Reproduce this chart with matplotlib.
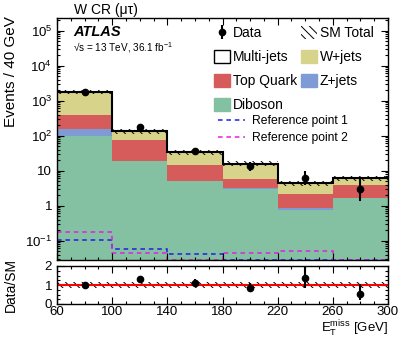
import numpy as np
import matplotlib
matplotlib.use('Agg')
import matplotlib.pyplot as plt
import matplotlib.patches as mpatches
from matplotlib.lines import Line2D
from matplotlib.ticker import FixedLocator, FixedFormatter, MultipleLocator, LogLocator, NullFormatter

plt.rcParams['font.family'] = ['Liberation Sans', 'DejaVu Sans']
plt.rcParams['mathtext.fontset'] = 'custom'
plt.rcParams['mathtext.rm'] = 'Liberation Sans'
plt.rcParams['mathtext.it'] = 'Liberation Sans:italic'
plt.rcParams['mathtext.bf'] = 'Liberation Sans:bold'
plt.rcParams['hatch.linewidth'] = 0.7

# ---------------- data ----------------
bin_edges = [60, 100, 140, 180, 220, 260, 300]
diboson = [98, 18.5, 4.9, 3.05, 0.73, 1.64]
zjets = [62, 0.3, 0.1, 0.05, 0.14, 0.05]
top_quark = [225, 58, 9.2, 2.8, 1.32, 2.1]
wjets = [1395, 57, 19.2, 10.0, 2.2, 2.3]
multijets = [0, 0, 0, 0, 0, 0]
data = [1800, 178, 37.4, 13.5, 6.1, 3.05]
data_err_lo = [42, 13, 6.0, 3.6, 2.3, 1.65]
data_err_hi = [42, 14, 6.6, 4.3, 3.4, 3.45]
sm_rel_unc = [0.15, 0.15, 0.15, 0.15, 0.15, 0.15]
ref_point1 = [0.105, 0.056, 0.041, 0.028, 0.028, 0.028]
ref_point2 = [0.174, 0.043, 0.028, 0.043, 0.05, 0.028]
y_tick_vals = [0.1, 1, 10, 100, 1000, 10000, 100000]
y_tick_labels = [r'$10^{-1}$', '1', '10', r'$10^{2}$', r'$10^{3}$', r'$10^{4}$', r'$10^{5}$']
x_ticks = [60, 100, 140, 180, 220, 260, 300]

col_dib = '#84c1a3'
col_z = '#7f9bd6'
col_top = '#d65c5c'
col_w = '#d8d38a'

edges = np.array(bin_edges, dtype=float)
left = edges[:-1]
width = np.diff(edges)
centers = 0.5 * (edges[:-1] + edges[1:])

W, H = 411, 339
fig = plt.figure(figsize=(W / 100, H / 100), dpi=100)
ax = fig.add_axes([57 / W, 1 - 260 / H, (388 - 57) / W, (260 - 18) / H])
ax2 = fig.add_axes([57 / W, 1 - 304 / H, (388 - 57) / W, (304 - 266) / H])

# stacked histogram
bottom = np.zeros(len(left))
comps = [(diboson, col_dib, 'Diboson'), (zjets, col_z, 'Z+jets'),
         (top_quark, col_top, 'Top Quark'), (wjets, col_w, 'W+jets'),
         (multijets, 'white', 'Multi-jets')]
for vals, c, lab in comps:
    v = np.array(vals, dtype=float)
    ax.bar(left, v, width=width, bottom=bottom, align='edge', color=c, linewidth=0)
    bottom = bottom + v
total = bottom
unc = np.array(sm_rel_unc)

ax.stairs(total * (1 + unc), edges, baseline=total * (1 - unc), fill=True,
          hatch='\\\\\\\\', facecolor='none', edgecolor='black', linewidth=0)
ax.stairs(total, edges, baseline=None, color='black', linewidth=1.5)

ax.stairs(ref_point1, edges, baseline=None, color='#1f1fe0', linestyle=(0, (3, 2.5)), linewidth=1.1)
ax.stairs(ref_point2, edges, baseline=None, color='#e020e0', linestyle=(0, (3, 2.5)), linewidth=1.1)

d = np.array(data)
eb = ax.errorbar(centers, d, yerr=[data_err_lo, data_err_hi], fmt='o', color='black',
                 markersize=4.5, elinewidth=1.5, capsize=0)

ax.set_yscale('log')
ax.set_xlim(60, 300)
ax.set_ylim(0.028, 2.3e5)
ax.yaxis.set_major_locator(FixedLocator(y_tick_vals))
ax.yaxis.set_major_formatter(FixedFormatter(y_tick_labels))
ax.yaxis.set_minor_locator(LogLocator(base=10, subs=np.arange(2, 10), numticks=20))
ax.yaxis.set_minor_formatter(NullFormatter())
ax.xaxis.set_major_locator(FixedLocator(x_ticks))
ax.xaxis.set_minor_locator(MultipleLocator(10))
ax.tick_params(axis='x', labelbottom=False)

for a in (ax, ax2):
    a.tick_params(which='both', direction='in', top=True, right=True, labelsize=9.5, width=0.8)
    a.tick_params(which='major', length=5)
    a.tick_params(which='minor', length=2.5)
    for s in a.spines.values():
        s.set_linewidth(1.0)

fig.text(18 / W, 1 - 72 / H, 'Events / 40 GeV', fontsize=11, rotation=90,
         ha='right', va='center')
fig.text(74 / W, 1 - 10 / H, 'W CR (μτ)', fontsize=10, va='center', ha='left')
fig.text(73 / W, 1 - 32 / H, 'ATLAS', fontsize=10.5, fontweight='bold', fontstyle='italic',
         va='center', ha='left')
fig.text(73 / W, 1 - 48 / H, r'√s = 13 TeV, 36.1 fb$^{-1}$', fontsize=7.2, va='center', ha='left')

# legends
h_data = eb
h_sm = mpatches.Patch(facecolor='none', edgecolor='black', hatch='\\\\\\\\', linewidth=0)
h_mj = mpatches.Patch(facecolor='white', edgecolor='black', linewidth=1.0)
h_w = mpatches.Patch(facecolor=col_w, edgecolor=col_w)
h_top = mpatches.Patch(facecolor=col_top, edgecolor=col_top)
h_z = mpatches.Patch(facecolor=col_z, edgecolor=col_z)
h_dib = mpatches.Patch(facecolor=col_dib, edgecolor=col_dib)
handles = [h_data, h_mj, h_top, h_dib, h_sm, h_w, h_z]
labels = ['Data', 'Multi-jets', 'Top Quark', 'Diboson', 'SM Total', 'W+jets', 'Z+jets']
leg1 = fig.legend(handles, labels, ncol=2, loc='upper left',
                  bbox_to_anchor=(214 / W, 1 - 26 / H), frameon=False, fontsize=10,
                  handlelength=1.15, handleheight=1.1, handletextpad=0.2,
                  labelspacing=0.68, columnspacing=0.3, borderpad=0, borderaxespad=0)

r1 = Line2D([], [], color='#1f1fe0', linestyle=(0, (3, 2.5)), linewidth=1.1)
r2 = Line2D([], [], color='#e020e0', linestyle=(0, (3, 2.5)), linewidth=1.1)
leg2 = fig.legend([r1, r2], ['Reference point 1', 'Reference point 2'], loc='upper left',
                  bbox_to_anchor=(218 / W, 1 - 115 / H), frameon=False, fontsize=8.7,
                  handlelength=2.2, handletextpad=0.65, labelspacing=0.42,
                  borderpad=0, borderaxespad=0)

# ratio panel
ratio = d / total
r_lo = np.array(data_err_lo) / total
r_hi = np.array(data_err_hi) / total
ax2.stairs(1 + unc, edges, baseline=1 - unc, fill=True, hatch='\\\\\\\\',
           facecolor='none', edgecolor='black', linewidth=0)
ax2.axhline(1, color='red', linewidth=1.5)
ax2.errorbar(centers, ratio, yerr=[r_lo, r_hi], fmt='o', color='black',
             markersize=4.5, elinewidth=1.5, capsize=0)
ax2.set_xlim(60, 300)
ax2.set_ylim(0, 2)
ax2.yaxis.set_major_locator(FixedLocator([0, 1, 2]))
ax2.yaxis.set_minor_locator(MultipleLocator(0.25))
ax2.xaxis.set_major_locator(FixedLocator(x_ticks))
ax2.xaxis.set_minor_locator(MultipleLocator(10))
ax2.tick_params(axis='x', pad=1.5)
fig.text(18 / W, 1 - 285 / H, 'Data/SM', fontsize=10, rotation=90, ha='right', va='center')
fig.text(388 / W, 1 - 332.5 / H, r'$\mathrm{E}_{\mathrm{T}}^{\mathrm{miss}}$ [GeV]', fontsize=9.5,
         ha='right', va='baseline')

fig.savefig('out.png', dpi=100)
